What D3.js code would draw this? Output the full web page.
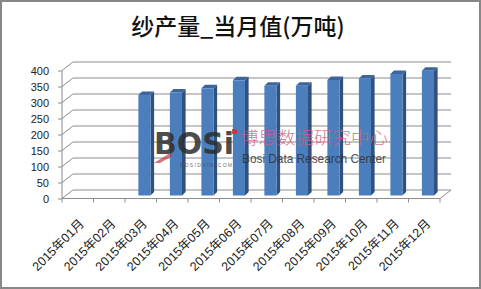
<!DOCTYPE html>
<html><head><meta charset="utf-8">
<script src="https://cdn.jsdelivr.net/npm/d3@7"></script>
<style>
html,body{margin:0;padding:0;background:#fff;}
svg{display:block;}
</style></head>
<body>
<script>
const title = "纱产量_当月值(万吨)";
const categories = ["2015年01月","2015年02月","2015年03月","2015年04月","2015年05月","2015年06月","2015年07月","2015年08月","2015年09月","2015年10月","2015年11月","2015年12月"];
const values = [null, null, 314, 322, 335, 360, 343, 343, 361, 366, 380, 390];
const yTicks = [0, 50, 100, 150, 200, 250, 300, 350, 400];

const W = 481, H = 289;
const svg = d3.select("body").append("svg").attr("width", W).attr("height", H);

svg.append("rect").attr("x", 1).attr("y", 1).attr("width", W - 2).attr("height", H - 2)
  .attr("fill", "#fff").attr("stroke", "#878787").attr("stroke-width", 2);

svg.append("text").attr("x", 238).attr("y", 35).attr("text-anchor", "middle")
  .attr("font-family", "'Noto Sans CJK SC', sans-serif").attr("font-size", 23).attr("font-weight", 500)
  .attr("fill", "#111").text(title);

const x = d3.scaleBand().domain(categories).range([62, 440]);
const y = d3.scaleLinear().domain([0, 400]).range([198.5, 70.5]);
const D = {dx: 11, dy: -8.5};      // floor depth
const F = {dx: 3.7, dy: -3};       // bar front offset
const B = {dx: 3.6, dy: -3.5};     // bar depth
const grid = "#8c8c8c";

const g = svg.append("g").attr("fill", "none").attr("stroke", grid).attr("stroke-width", 1);
yTicks.forEach(v => {
  const yy = y(v);
  g.append("path").attr("d", d3.line()([[62, yy], [62 + D.dx, yy + D.dy], [440 + D.dx, yy + D.dy]]));
});
g.append("path").attr("d", d3.line()([[62, y(0)], [440, y(0)], [440 + D.dx, y(0) + D.dy]]));

const bw = x.bandwidth() * 0.385;
const data = categories.map((c, i) => ({c, v: values[i]})).filter(d => d.v != null);
const bars = svg.append("g");
data.forEach(d => {
  const x0 = x(d.c) + (x.bandwidth() - bw) / 2 + F.dx;
  const x1 = x0 + bw;
  const yb = y(0) + F.dy;
  const yt = y(d.v) + F.dy;
  bars.append("path").attr("d", d3.line()([[x1, yt], [x1 + B.dx, yt + B.dy], [x1 + B.dx, yb + B.dy], [x1, yb]]) + "Z")
    .attr("fill", "#30517d");
  bars.append("path").attr("d", d3.line()([[x0, yt], [x0 + B.dx, yt + B.dy], [x1 + B.dx, yt + B.dy], [x1, yt]]) + "Z")
    .attr("fill", "#3c659a");
  bars.append("rect").attr("x", x0).attr("y", yt).attr("width", bw).attr("height", yb - yt)
    .attr("fill", "#4a7ebd");
});

const yAxis = svg.append("g").attr("transform", "translate(62,0)")
  .call(d3.axisLeft(y).tickValues(yTicks).tickSize(4).tickPadding(9));
yAxis.select(".domain").attr("stroke", grid).attr("d", `M0,${y(400)}V${y(0)}`);
yAxis.selectAll(".tick line").attr("stroke", grid);
yAxis.selectAll("text").attr("font-family", "'Liberation Sans', Arial, sans-serif")
  .attr("font-size", 11).attr("fill", "#222");

const xAxis = svg.append("g").attr("transform", `translate(0,${y(0)})`)
  .call(d3.axisBottom(x).tickSize(0).tickPadding(0));
xAxis.select(".domain").remove();
xAxis.selectAll(".tick text")
  .attr("font-family", "'Liberation Sans', 'Noto Sans CJK SC', sans-serif")
  .attr("font-size", 12.5).attr("fill", "#222")
  .attr("text-anchor", "end").attr("dy", 0)
  .attr("transform", "translate(7,26) rotate(-45)");
const tickPos = categories.map(c => x(c)).concat([x.range()[1]]);
svg.append("g").selectAll("line").data(tickPos).join("line")
  .attr("x1", d => d).attr("x2", d => d).attr("y1", y(0)).attr("y2", y(0) + 4)
  .attr("stroke", grid);

// watermark
const wm = svg.append("g").attr("opacity", 0.85);
wm.append("text").attr("x", 154).attr("y", 154).attr("font-family", "'DejaVu Sans', sans-serif")
  .attr("font-weight", "bold").attr("font-size", 30).attr("fill", "#2e2e2e")
  .attr("textLength", 80).attr("lengthAdjust", "spacingAndGlyphs").text("BOSi");
wm.append("rect").attr("x", 232).attr("y", 129).attr("width", 5).attr("height", 5).attr("fill", "#c8323c");
wm.append("path").attr("d", "M154,163 L170,153 L172,156 L160,163Z").attr("fill", "#c8323c").attr("opacity", 0.8);
wm.append("text").attr("x", 180).attr("y", 167).attr("font-family", "'Liberation Sans', sans-serif")
  .attr("font-size", 5).attr("fill", "#555").attr("textLength", 52).text("BOSIDATA.COM");
wm.append("text").attr("x", 240).attr("y", 144).attr("font-family", "'Noto Sans CJK SC', sans-serif")
  .attr("font-weight", 300).attr("font-size", 17.5).attr("fill", "#d4607c")
  .attr("textLength", 148).attr("lengthAdjust", "spacingAndGlyphs").text("博思数据研究中心");
wm.append("text").attr("x", 242).attr("y", 163).attr("font-family", "'Liberation Sans Narrow', 'Liberation Sans', sans-serif")
  .attr("font-size", 13).attr("fill", "#333")
  .attr("textLength", 144).attr("lengthAdjust", "spacingAndGlyphs").text("Bosi Data Research Center");
</script>
</body></html>
